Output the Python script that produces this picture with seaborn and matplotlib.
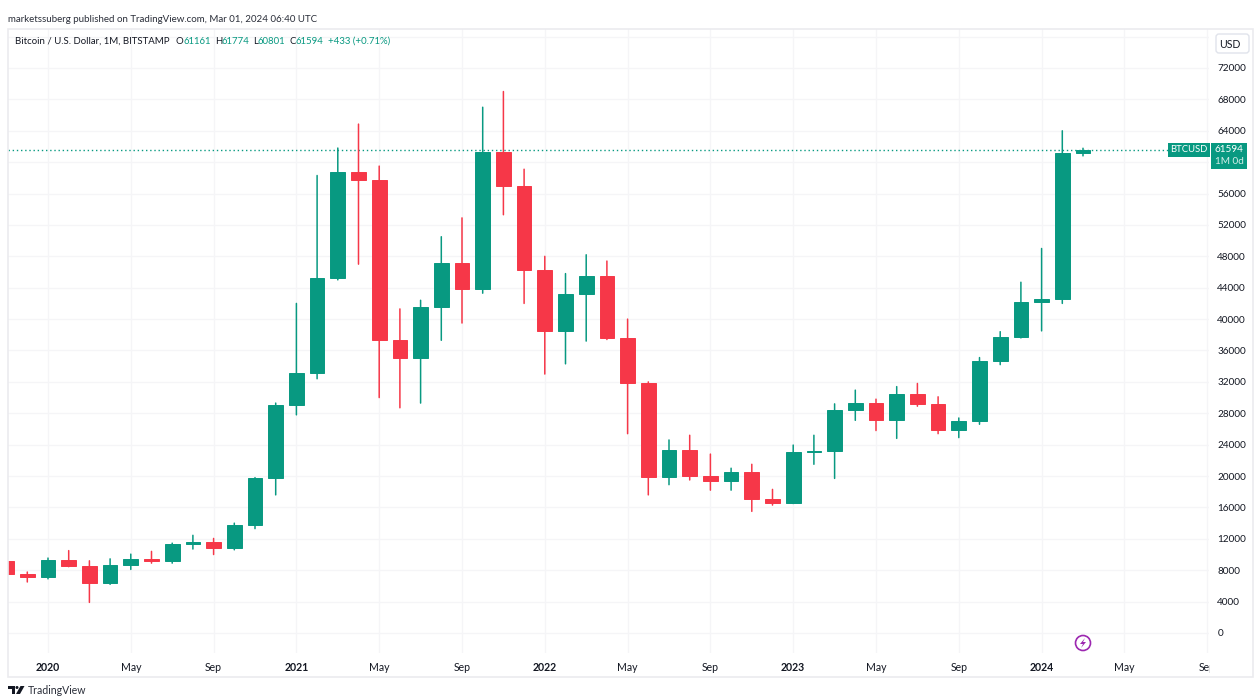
import pandas as pd
import matplotlib
matplotlib.use('Agg')
import matplotlib.pyplot as plt
import seaborn as sns
from matplotlib.patches import Rectangle, Polygon, Ellipse, FancyBboxPatch
from matplotlib.transforms import Affine2D, Bbox

# monthly candles, Nov 2019 .. Mar 2024
opens = [9170, 7550, 7190, 9350, 8540, 6420, 8630, 9450, 9140, 11350, 11650, 10780, 13800, 19700,
         29000, 33100, 45200, 58800, 57700, 37300, 35000, 41500, 47100, 43800, 61300, 57000,
         46200, 38500, 43200, 45500, 37600, 31800, 19900, 23300, 20000, 19400, 20500, 17100,
         16550, 23100, 23150, 28400, 29250, 27200, 30500, 29200, 25900, 27000, 34600, 37700,
         42200, 42550, 61161]
highs = [9500, 7770, 9550, 10500, 9200, 9450, 10050, 10400, 11450, 12450, 12050, 14000, 19800, 29300,
         42000, 58300, 61800, 64850, 59500, 41300, 42400, 50500, 52900, 67000, 69000, 59100,
         48000, 45800, 48200, 47400, 40000, 32000, 24600, 25200, 22800, 21000, 21500, 18300,
         23950, 25200, 29200, 30950, 29800, 31400, 31800, 30100, 27400, 35100, 38400, 44700,
         49000, 64000, 61774]
lows = [7300, 6500, 6900, 8450, 3900, 6200, 8100, 8900, 8900, 10700, 10000, 10600, 13300, 17600,
        27800, 32400, 45000, 47000, 30000, 28700, 29300, 37300, 39500, 43300, 53300, 42000,
        33000, 34300, 37200, 37400, 25400, 17600, 18900, 19500, 18200, 18200, 15500, 16300,
        16500, 21500, 19700, 27100, 25800, 24800, 28900, 25400, 24900, 26600, 34200, 37600,
        38500, 42000, 60801]
closes = [7550, 7190, 9350, 8540, 6420, 8630, 9450, 9140, 11350, 11650, 10780, 13800, 19700, 29000,
          33100, 45200, 58800, 57700, 37300, 35000, 41500, 47100, 43800, 61300, 57000, 46200,
          38500, 43200, 45500, 37600, 31800, 19900, 23300, 20000, 19400, 20500, 17100, 16550,
          23100, 23150, 28400, 29250, 27200, 30500, 29200, 25900, 27000, 34600, 37700, 42200,
          42550, 61150, 61594]
month_index = list(range(-2, 51))

x_tick_pos = list(range(0, 60, 4))
x_tick_labels = ['2020', 'May', 'Sep', '2021', 'May', 'Sep', '2022', 'May', 'Sep',
                 '2023', 'May', 'Sep', '2024', 'May', 'Sep']
y_tick_pos = list(range(0, 80000, 4000))
y_tick_labels = [str(v) if v not in (60000, 76000) else '' for v in y_tick_pos]
last_price = 61594

GREEN = '#089981'
RED = '#f63748'
TEXT = '#131722'
GRID = '#f5f5f7'
FRAME = '#ebebef'
FONT = 'Lato'

sns.set_theme(style='whitegrid', rc={'grid.color': GRID, 'grid.linewidth': 0.9,
                                     'axes.edgecolor': 'white'})
plt.rcParams['font.family'] = [FONT, 'DejaVu Sans']

fig = plt.figure(figsize=(12.6, 7), dpi=100)
ax = fig.add_axes([8 / 1260, 1 - 653 / 700, (1209 - 8) / 1260, (653 - 29) / 700])

df = pd.DataFrame({'month': month_index, 'open': opens, 'high': highs, 'low': lows, 'close': closes})
df['up'] = df['close'] >= df['open']
df['bottom'] = df[['open', 'close']].min(axis=1)
df['body'] = (df['close'] - df['open']).abs()

wicks = df.melt(id_vars=['month', 'up'], value_vars=['low', 'high'], value_name='price')
sns.lineplot(data=wicks, x='month', y='price', units='month', estimator=None, hue='up',
             palette={True: GREEN, False: RED}, legend=False, linewidth=1.1, ax=ax,
             zorder=3, snap=False)

for is_up, colour in [(True, GREEN), (False, RED)]:
    part = df[df['up'] == is_up]
    sns.barplot(data=part, x='month', y='body', bottom=part['bottom'].values, native_scale=True,
                color=colour, saturation=1, errorbar=None, width=0.71, edgecolor=colour,
                linewidth=0.7, ax=ax, zorder=4)

ax.axhline(last_price, color=GREEN, linewidth=1, linestyle=(0, (1, 2)), zorder=2)

# pixel mapping of the pane
px_per_month = 20.7
ax.set_xlim((8 - 48) / px_per_month, (1209 - 48) / px_per_month)
ax.set_ylim((633 - 653) * 72000 / 565, (633 - 29) * 72000 / 565)
ax.set_xlabel('')
ax.set_ylabel('')
ax.set_xticks(x_tick_pos)
ax.set_xticklabels(x_tick_labels, fontsize=7.6, color=TEXT)
ax.set_yticks(y_tick_pos)
ax.set_yticklabels(y_tick_labels, fontsize=7.2, color=TEXT)
ax.yaxis.tick_right()
ax.tick_params(axis='x', length=0, pad=6.5)
ax.tick_params(axis='y', length=0, pad=6)
ax.set_axisbelow(True)
ax.grid(True, axis='both')
for s in ax.spines.values():
    s.set_visible(False)

clip = Bbox.from_extents(0, 0, 1210, 700)
for lab in ax.get_xticklabels():
    if lab.get_text().isdigit():
        lab.set_fontweight('bold')
    lab.set_clip_on(True)
    lab.set_clip_box(clip)

# everything outside the axes is placed in image pixels, origin top left
pxt = Affine2D().scale(1, -1).translate(0, 700)


def label(x, y, s, color=TEXT, size=8, ha='left', **kw):
    fig.text(x, y, s, transform=pxt, color=color, fontsize=size, ha=ha, va='center', **kw)


fig.add_artist(Rectangle((8, 29), 1245, 648, transform=pxt, fill=False, edgecolor=FRAME, linewidth=1.2))

label(8, 19, 'marketssuberg published on TradingView.com, Mar 01, 2024 06:40 UTC', color='#2a2e39', size=7.0)
label(15, 41, 'Bitcoin / U.S. Dollar, 1M, BITSTAMP', size=6.9)
for x, s in [(176, 'O'), (215, 'H'), (253, 'L'), (290, 'C')]:
    label(x, 41, s, size=6.9)
for x, s in [(183, '61161'), (221, '61774'), (258, '60801'), (296, '61594'), (328, '+433 (+0.71%)')]:
    label(x, 41, s, color=GREEN, size=6.9)

# USD button
fig.add_artist(FancyBboxPatch((1216, 34), 33, 19, boxstyle='round,pad=0,rounding_size=3', transform=pxt,
                              facecolor='white', edgecolor='#e0e3eb', linewidth=1))
label(1230, 44, 'USD', size=7.6, ha='center')

# last price tags
fig.add_artist(Rectangle((1168, 143), 42, 14, transform=pxt, facecolor=GREEN, edgecolor='none'))
fig.add_artist(Rectangle((1211, 143), 36, 26, transform=pxt, facecolor=GREEN, edgecolor='none'))
label(1189, 150, 'BTCUSD', color='white', size=6.8, ha='center')
label(1229, 150, '61594', color='white', size=7.2, ha='center')
label(1229, 162, '1M 0d', color='#d5eee9', size=7.2, ha='center')

# bolt marker
fig.add_artist(Ellipse((1083, 643), 15, 15, transform=pxt, fill=False, edgecolor='#9c27b0', linewidth=1.2))
fig.add_artist(Polygon([(1085, 638), (1080, 644), (1083, 644), (1081, 648), (1086, 642), (1083, 642)],
                       closed=True, transform=pxt, facecolor='#9c27b0', edgecolor='none'))

# TradingView logo
fig.add_artist(Polygon([(8, 686), (15, 686), (15, 694), (11.5, 694), (11.5, 689), (8, 689)], closed=True,
                       transform=pxt, facecolor=TEXT, edgecolor='none'))
fig.add_artist(Ellipse((17, 687.5), 3, 3, transform=pxt, facecolor=TEXT, edgecolor='none'))
fig.add_artist(Polygon([(20.5, 686), (24.5, 686), (20, 694), (16, 694)], closed=True, transform=pxt,
                       facecolor=TEXT, edgecolor='none'))
label(28, 691, 'TradingView', color='#2a2e39', size=7.6)

fig.savefig('out.png', dpi=100, facecolor='white')
